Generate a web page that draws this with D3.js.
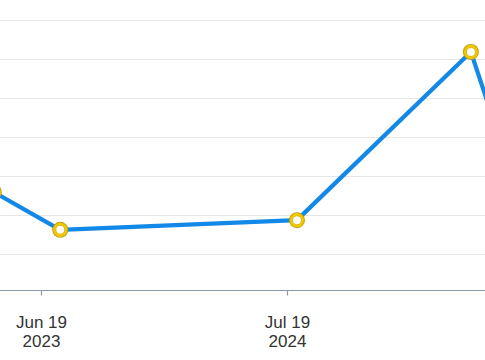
<!DOCTYPE html>
<html>
<head>
<meta charset="utf-8">
<script src="https://cdn.jsdelivr.net/npm/d3@7"></script>
<style>
  html, body { margin: 0; padding: 0; background: #fff; }
  svg { display: block; }
  text { font-family: "Liberation Sans", Arial, Helvetica, sans-serif; }
</style>
</head>
<body>
<svg id="chart" width="485" height="360"></svg>
<script>
// ---- data ----
const dates = ["2023-04-04", "2023-07-20", "2024-08-04", "2025-05-11", "2025-06-20"];
const values = [25.8, 16.1, 18.6, 61.9, 42.6];
const tickDates = ["2023-06-19", "2024-07-19"];
const tickLabels = [["Jun 19", "2023"], ["Jul 19", "2024"]];
const gridValues = [10, 20, 30, 40, 50, 60, 70];

// ---- layout ----
const W = 485, H = 360;
const axisY = 290;
const parse = d3.utcParse("%Y-%m-%d");

const x = d3.scaleUtc()
  .domain([parse(tickDates[0]), parse(tickDates[1])])
  .range([41, 287]);
const y = d3.scaleLinear().domain([0, 75]).range([292.4, 1.0]);

const svg = d3.select("#chart");

// grid
svg.append("g")
  .selectAll("line")
  .data(gridValues)
  .join("line")
  .attr("x1", 0).attr("x2", W)
  .attr("y1", d => Math.round(y(d)) + 0.5)
  .attr("y2", d => Math.round(y(d)) + 0.5)
  .attr("stroke", "#e6e6e6")
  .attr("stroke-width", 1.2);

// x axis
const xAxis = d3.axisBottom(x)
  .tickValues(tickDates.map(parse))
  .tickSize(5)
  .tickFormat("");
const gx = svg.append("g")
  .attr("transform", `translate(0,${axisY + 0.5})`)
  .call(xAxis);
gx.select(".domain").remove();
gx.append("line")
  .attr("x1", 0).attr("x2", W)
  .attr("stroke", "#8c9aa8").attr("stroke-width", 1.2);
gx.selectAll(".tick line").attr("stroke", "#8c9aa8").attr("stroke-width", 1.2);
gx.selectAll(".tick").each(function(d, i) {
  const t = d3.select(this).append("text")
    .attr("fill", "#333")
    .attr("font-size", 17)
    .attr("text-anchor", "middle")
    .attr("y", 37);
  t.append("tspan").attr("x", 0).attr("dy", 0).text(tickLabels[i][0]);
  t.append("tspan").attr("x", 0).attr("dy", 19).text(tickLabels[i][1]);
});

// line
const pts = dates.map((d, i) => ({ date: parse(d), value: values[i] }));
svg.append("clipPath").attr("id", "clip")
  .append("rect").attr("x", 0).attr("y", 0).attr("width", W).attr("height", axisY);

const g = svg.append("g").attr("clip-path", "url(#clip)");
g.append("path")
  .datum(pts)
  .attr("fill", "none")
  .attr("stroke", "#1288e8")
  .attr("stroke-width", 4.2)
  .attr("stroke-linejoin", "round")
  .attr("d", d3.line().x(d => x(d.date)).y(d => y(d.value)));

const layers = [
  { r: 8, fill: "#c09f10" },
  { r: 7.1, fill: "#f0c800" },
  { r: 4.5, fill: "#c9a80a" },
  { r: 4.0, fill: "#ffffff" }
];
layers.forEach((L, k) => {
  g.selectAll("circle.m" + k)
    .data(pts)
    .join("circle")
    .attr("class", "m" + k)
    .attr("cx", d => x(d.date))
    .attr("cy", d => y(d.value))
    .attr("r", L.r)
    .attr("fill", L.fill);
});
</script>
</body>
</html>
